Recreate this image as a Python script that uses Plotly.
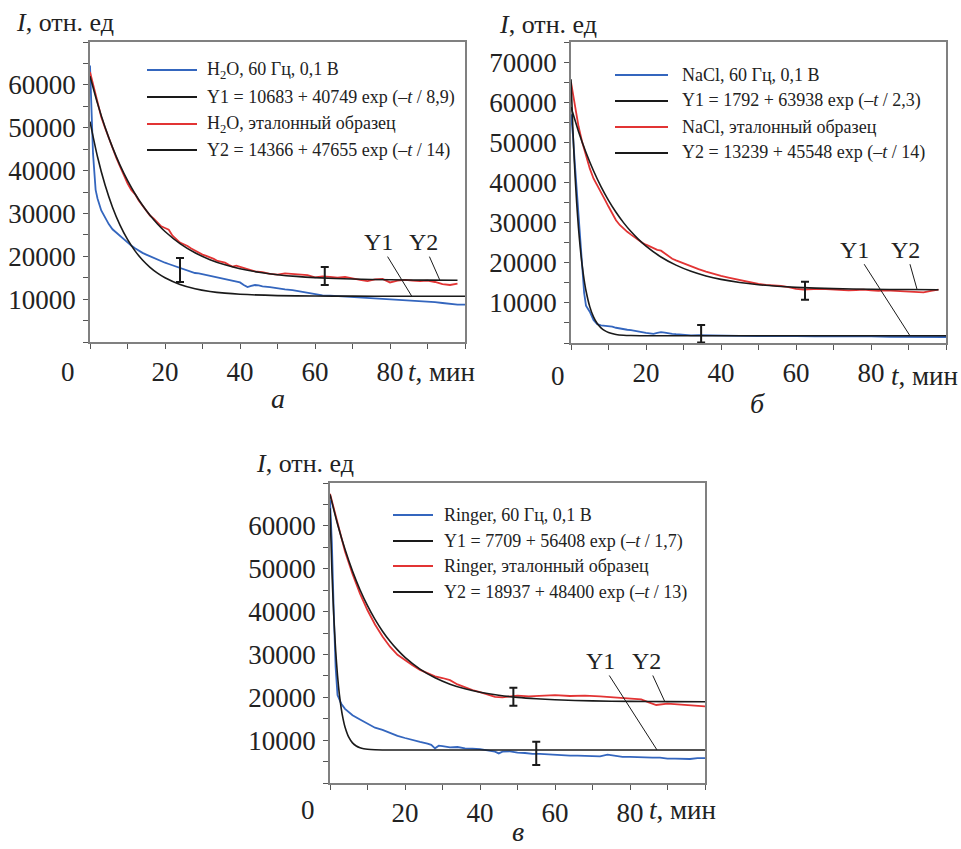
import plotly.graph_objects as go

W, H = 961, 849
FONT = "Liberation Serif, Times New Roman, serif"
BLUE = "rgb(52,102,190)"
RED = "rgb(226,52,52)"
BLACK = "#1a1a1a"

# ---------------- Panel а (H2O) ----------------
a_blue_t = [0, 0.3, 0.8, 1.5, 2, 3, 4, 5, 6, 7, 8, 9, 10, 11, 12, 13, 14, 15, 16, 17, 18, 19, 20, 21, 22, 23, 24, 25,
            26, 27, 28, 29, 30, 31, 32, 33, 34, 35, 36, 37, 38, 39, 40, 41, 42, 43, 44, 45, 46, 48, 50, 52, 54, 56, 58,
            60, 62, 64, 66, 68, 70, 72, 74, 76, 78, 80, 82, 84, 86, 88, 90, 92, 94, 96, 98, 100]
a_blue = [64500, 55000, 44000, 35500, 33500, 30700, 29000, 27500, 26300, 25500, 24800, 24000, 23300, 22500, 21900,
          21300, 20800, 20400, 20000, 19700, 19300, 18900, 18500, 18200, 17900, 17600, 17300, 17000, 16700, 16300,
          16100, 16000, 15800, 15700, 15400, 15200, 15000, 14800, 14600, 14500, 14300, 14100, 13900, 13300, 12800,
          13100, 13300, 13200, 13000, 12800, 12500, 12300, 12100, 11800, 11500, 11100, 10900, 10800, 10700, 10600,
          10500, 10400, 10300, 10200, 10100, 10000, 9900, 9850, 9700, 9600, 9450, 9300, 9100, 8900, 8700, 8700]
a_red_t = [0, 1, 2, 3, 4, 5, 6, 7, 8, 9, 10, 11, 12, 13, 14, 15, 16, 17, 18, 19, 20, 21, 22, 23, 24, 25, 26, 27, 28,
           29, 30, 31, 32, 33, 34, 35, 36, 37, 38, 39, 40, 42, 44, 46, 48, 50, 52, 54, 56, 58, 60, 62, 64, 66, 68, 70,
           72, 74, 76, 78, 80, 82, 84, 86, 88, 90, 92, 94, 96, 98]
a_red = [63000, 59500, 55500, 52500, 50000, 47500, 45000, 43000, 41000, 39000, 37000, 35500, 34500, 33000, 31800,
         30500, 29500, 28800, 27800, 27000, 26600, 26200, 24800, 24000, 23200, 22800, 22400, 21800, 21300, 20900,
         20400, 20100, 19800, 19400, 18900, 18700, 18500, 18000, 17600, 17800, 17500, 17000, 16500, 16300, 15900,
         15700, 16000, 15900, 15700, 15600, 15100, 15300, 15200, 15000, 15200, 14800, 14500, 14200, 14600, 14700,
         13900, 14300, 14500, 14300, 14200, 14300, 14000, 13500, 13300, 13600]
a_fit1_t = [0, 2, 4, 6, 8, 10, 12, 14, 16, 18, 20, 24, 28, 32, 36, 40, 50, 60, 70, 80, 100]
a_fit1 = [51432, 43233, 36680, 31450, 27270, 23930, 21265, 19134, 17435, 16078, 14990, 13430, 12435, 11801, 11396,
          11138, 10831, 10731, 10699, 10688, 10683]
a_fit2_t = [0, 2, 4, 6, 8, 10, 12, 14, 16, 18, 20, 24, 28, 32, 36, 40, 45, 50, 55, 60, 70, 80, 90, 98]
a_fit2 = [62021, 55678, 50179, 45409, 41277, 37693, 34591, 31898, 29563, 27543, 25789, 22949, 20814, 19212, 18007,
          17102, 16282, 15707, 15303, 15022, 14687, 14523, 14443, 14409]
a_err_t = [24, 62.6]
a_err_y = [16800, 15400]
a_err_h = [2800, 2100]
a_legend = ["H<sub>2</sub>O, 60 Гц, 0,1 В",
            "Y1 = 10683 + 40749 exp (–<i>t</i> / 8,9)",
            "H<sub>2</sub>O, эталонный образец",
            "Y2 = 14366 + 47655 exp (–<i>t</i> / 14)"]

# ---------------- Panel б (NaCl) ----------------
b_blue_t = [0, 0.5, 1, 1.5, 2, 2.5, 3, 3.5, 4, 4.5, 5, 6, 7, 8, 9, 10, 11, 12, 13, 14, 15, 16, 17, 18, 19, 20, 21, 22,
            23, 24, 25, 26, 27, 28, 30, 32, 34, 36, 38, 40, 45, 50, 55, 60, 65, 70, 75, 80, 85, 90, 95, 100]
b_blue = [57000, 52000, 45000, 38000, 31500, 25000, 18500, 12500, 9300, 8600, 7800, 5700, 4700, 4400, 4300, 4200,
          4100, 3800, 3600, 3400, 3300, 3200, 3000, 2800, 2700, 2500, 2400, 2300, 2500, 2700, 2600, 2400, 2300, 2200,
          2000, 1900, 1950, 1900, 1850, 1850, 1800, 1750, 1800, 1700, 1650, 1700, 1600, 1650, 1550, 1500, 1550, 1500]
b_red_t = [0, 1, 2, 3, 4, 5, 6, 7, 8, 9, 10, 11, 12, 13, 14, 15, 16, 17, 18, 19, 20, 21, 22, 23, 24, 25, 26, 27, 28,
           29, 30, 32, 34, 36, 38, 40, 42, 44, 46, 48, 50, 52, 54, 56, 58, 60, 62, 64, 66, 68, 70, 72, 74, 76, 78, 80,
           82, 84, 86, 88, 90, 92, 94, 96, 98]
b_red = [65000, 59000, 54000, 50000, 46500, 43500, 41000, 39300, 37800, 35800, 34000, 32200, 30600, 29400, 28500,
         27700, 27000, 26300, 25600, 25000, 24500, 24000, 23600, 23200, 23000, 22300, 21600, 21000, 20600, 20200,
         19800, 19100, 18400, 17800, 17200, 16700, 16300, 15900, 15500, 15100, 14700, 14500, 14400, 14200, 13900,
         13500, 13300, 13400, 13500, 13400, 13300, 13200, 13100, 13200, 13300, 13100, 13000, 13100, 13000, 12900,
         12900, 12700, 12600, 13000, 13300]
b_fit1_t = [0, 0.5, 1, 1.5, 2, 2.5, 3, 3.5, 4, 5, 6, 7, 8, 9, 10, 12, 14, 16, 20, 30, 100]
b_fit1 = [65730, 53237, 43185, 35097, 28589, 23352, 19145, 15756, 13026, 9062, 6497, 4840, 3765, 3071, 2619, 2139,
          1937, 1853, 1803, 1793, 1792]
b_fit2_t = [0, 2, 4, 6, 8, 10, 12, 14, 16, 18, 20, 24, 28, 32, 36, 40, 45, 50, 55, 60, 70, 80, 90, 98]
b_fit2 = [58787, 52725, 47468, 42909, 38960, 35535, 32570, 29996, 27764, 25833, 24157, 21442, 19402, 17871, 16719,
          15853, 15070, 14519, 14135, 13866, 13546, 13389, 13312, 13281]
b_err_t = [34.7, 62.4]
b_err_y = [2300, 13000]
b_err_h = [2200, 2250]
b_legend = ["NaCl, 60 Гц, 0,1 В",
            "Y1 = 1792 + 63938 exp (–<i>t</i> / 2,3)",
            "NaCl, эталонный образец",
            "Y2 = 13239 + 45548 exp (–<i>t</i> / 14)"]

# ---------------- Panel в (Ringer) ----------------
c_blue_t = [0, 0.5, 1, 1.5, 2, 3, 4, 5, 6, 8, 10, 12, 14, 16, 18, 20, 22, 24, 26, 27, 28, 29, 30, 32, 34, 36, 38, 40,
            42, 44, 45, 46, 48, 50, 52, 54, 56, 58, 60, 62, 64, 66, 68, 70, 72, 74, 76, 78, 80, 82, 84, 86, 88, 90, 92,
            94, 96, 98, 100]
c_blue = [66000, 56000, 40000, 27000, 20500, 18500, 17300, 16500, 15800, 14800, 13800, 12900, 12400, 11700, 11000,
          10500, 10000, 9600, 9200, 8900, 8100, 8700, 8600, 8300, 8400, 8100, 8000, 7900, 7600, 7300, 6900, 7300, 7400,
          7100, 7000, 6800, 6800, 6700, 6500, 6500, 6400, 6400, 6300, 6200, 6200, 6600, 6300, 6100, 6100, 6000, 5900,
          5900, 5900, 5700, 5700, 5600, 5600, 5800, 5800]
c_red_t = [0, 2, 4, 6, 8, 10, 12, 14, 16, 18, 20, 22, 24, 26, 28, 30, 32, 34, 36, 38, 40, 42, 44, 46, 48, 50, 53, 56,
           60, 64, 68, 72, 76, 80, 83, 85, 87, 90, 93, 96, 100]
c_red = [67500, 60500, 54000, 48800, 44200, 40300, 37000, 34200, 31800, 29900, 28600, 27500, 26400, 25600, 24900,
         24500, 24000, 23000, 22300, 21700, 21200, 20700, 20100, 20000, 20200, 20400, 20200, 20400, 20500, 20300,
         20400, 20200, 20000, 19700, 19500, 18800, 18200, 18500, 18300, 18100, 17900]
c_fit1_t = [0, 0.5, 1, 1.5, 2, 2.5, 3, 3.5, 4, 5, 6, 7, 8, 9, 10, 12, 15, 20, 100]
c_fit1 = [64117, 49744, 39038, 31056, 25105, 20672, 17366, 14907, 13073, 10687, 9363, 8627, 8219, 7992, 7866, 7758,
          7717, 7710, 7709]
c_fit2_t = [0, 2, 4, 6, 8, 10, 12, 14, 16, 18, 20, 24, 28, 32, 36, 40, 45, 50, 55, 60, 70, 80, 90, 100]
c_fit2 = [67337, 60435, 54516, 49444, 45092, 41366, 38166, 35422, 33075, 31056, 29328, 26579, 24551, 23066, 21972,
          21168, 20456, 19971, 19641, 19416, 19159, 19040, 18985, 18959]
c_err_t = [48.9, 55]
c_err_y = [20100, 6900]
c_err_h = [2100, 2700]
c_legend = ["Ringer, 60 Гц, 0,1 В",
            "Y1 = 7709 + 56408 exp (–<i>t</i> / 1,7)",
            "Ringer, эталонный образец",
            "Y2 = 18937 + 48400 exp (–<i>t</i> / 13)"]

x_tickvals = [20, 40, 60, 80]
x_ticktext = ["20", "40", "60", "80"]
x_minor = [0, 10, 30, 50, 70, 90, 100]


def px(x):
    return x / W


def py(y):
    return 1 - y / H


panels = [
    dict(name="a", blue=(a_blue_t, a_blue), red=(a_red_t, a_red), f1=(a_fit1_t, a_fit1), f2=(a_fit2_t, a_fit2),
         err=(a_err_t, a_err_y, a_err_h), legend=a_legend, ymax=70000, ylab=60000,
         box=(90, 465, 42, 342), label="а", label_pos=(278, 398),
         ytitle=(65, 23), ttitle=(441, 372), zero=(68, 372),
         leg=(147, 197, 205, [70, 97, 124, 150]),
         y1=((77, 23300), (85.8, 10683)), y2=((88.8, 23300), (93.3, 14409))),
    dict(name="b", blue=(b_blue_t, b_blue), red=(b_red_t, b_red), f1=(b_fit1_t, b_fit1), f2=(b_fit2_t, b_fit2),
         err=(b_err_t, b_err_y, b_err_h), legend=b_legend, ymax=75000, ylab=70000,
         box=(571, 946, 42, 343), label="б", label_pos=(757, 403),
         ytitle=(548, 25), ttitle=(924, 376), zero=(558, 376),
         leg=(615, 668, 680, [75, 101, 127, 153]),
         y1=((75.7, 23250), (90.4, 1792)), y2=((89.3, 23250), (92.3, 13290))),
    dict(name="c", blue=(c_blue_t, c_blue), red=(c_red_t, c_red), f1=(c_fit1_t, c_fit1), f2=(c_fit2_t, c_fit2),
         err=(c_err_t, c_err_y, c_err_h), legend=c_legend, ymax=70000, ylab=60000,
         box=(330, 705, 483, 783), label="в", label_pos=(518, 831),
         ytitle=(305, 463), ttitle=(682, 810), zero=(308, 810),
         leg=(393, 433, 442, [515, 541, 566, 592]),
         y1=((72, 28470), (87.2, 7709)), y2=((84.3, 28470), (89.3, 18959))),
]

fig = go.Figure()
layout = dict(width=W, height=H, margin=dict(l=0, r=0, t=0, b=0), paper_bgcolor="white",
              plot_bgcolor="white", showlegend=False, font=dict(family=FONT, size=26, color="#222"))
annotations = []
shapes = []


def paper_text(text, pos, size):
    return dict(text=text, xref="paper", yref="paper", x=px(pos[0]), y=py(pos[1]), xanchor="center",
                yanchor="middle", showarrow=False, font=dict(family=FONT, size=size, color="#222"))


for i, p in enumerate(panels):
    k = "" if i == 0 else str(i + 1)
    xa, ya = "x" + k, "y" + k
    l, r, t, b = p["box"]
    common = dict(showline=True, mirror=True, linecolor="#808080", linewidth=1.5, showgrid=False, zeroline=False,
                  ticks="outside", ticklen=5, tickwidth=1.2, tickcolor="#555",
                  tickfont=dict(family=FONT, size=27, color="#222"))
    layout["xaxis" + k] = dict(common, domain=[px(l), px(r)], anchor=ya, range=[0, 100], tickmode="array",
                               tickvals=x_tickvals, ticktext=x_ticktext, ticklabelstandoff=0,
                               minor=dict(tickmode="array", tickvals=x_minor, ticks="outside", ticklen=5,
                                          tickcolor="#555", tickwidth=1.2))
    yv = list(range(10000, p["ylab"] + 1, 10000))
    ym = [v for v in range(0, p["ymax"] + 1, 5000) if v not in yv]
    layout["yaxis" + k] = dict(common, domain=[py(b), py(t)], anchor=xa, range=[0, p["ymax"]], tickmode="array",
                               tickvals=yv, ticktext=[str(v) for v in yv], ticklabelstandoff=2,
                               minor=dict(tickmode="array", tickvals=ym, ticks="outside", ticklen=5,
                                          tickcolor="#555", tickwidth=1.2))

    for (tt, vv), col, w in [(p["blue"], BLUE, 1.8), (p["red"], RED, 1.8)]:
        fig.add_trace(go.Scatter(x=tt, y=vv, mode="lines", line=dict(color=col, width=w), xaxis=xa, yaxis=ya))
    for (tt, vv) in [p["f1"], p["f2"]]:
        fig.add_trace(go.Scatter(x=tt, y=vv, mode="lines", line=dict(color=BLACK, width=1.6, shape="spline",
                                                                      smoothing=0.8), xaxis=xa, yaxis=ya))
    et, ey, eh = p["err"]
    fig.add_trace(go.Scatter(x=et, y=ey, mode="markers", marker=dict(size=1, color="rgba(0,0,0,0)"),
                             error_y=dict(type="data", array=eh, symmetric=True, color=BLACK, thickness=2, width=4),
                             xaxis=xa, yaxis=ya))

    # legend drawn inside the plot area
    x0, x1, xt, rows = p["leg"]
    cols = [BLUE, BLACK, RED, BLACK]
    for txt, c, yy in zip(p["legend"], cols, rows):
        shapes.append(dict(type="line", xref="paper", yref="paper", x0=px(x0), x1=px(x1), y0=py(yy), y1=py(yy),
                           line=dict(color=c, width=2)))
        annotations.append(dict(text=txt, xref="paper", yref="paper", x=px(xt), y=py(yy), xanchor="left",
                                yanchor="middle", showarrow=False, font=dict(family=FONT, size=18, color="#222")))

    # Y1 / Y2 labels with leader lines
    for lab, ((tx, ty), (hx, hy)) in [("Y1", p["y1"]), ("Y2", p["y2"])]:
        annotations.append(dict(text=lab, x=hx, y=hy, ax=tx, ay=ty, xref=xa, yref=ya, axref=xa, ayref=ya,
                                showarrow=True, arrowhead=0, arrowwidth=1, arrowcolor=BLACK, standoff=0,
                                startstandoff=0, font=dict(family=FONT, size=24, color="#222")))

    # axis titles and labels
    annotations.append(paper_text("<i>I</i>, отн. ед", p["ytitle"], 26))
    annotations.append(paper_text("<i>t</i>, мин", p["ttitle"], 27))
    annotations.append(paper_text("0", p["zero"], 27))
    annotations.append(paper_text("<i>" + p["label"] + "</i>", p["label_pos"], 28))

layout["annotations"] = annotations
layout["shapes"] = shapes
fig.update_layout(**layout)
fig.write_html("out.html")
